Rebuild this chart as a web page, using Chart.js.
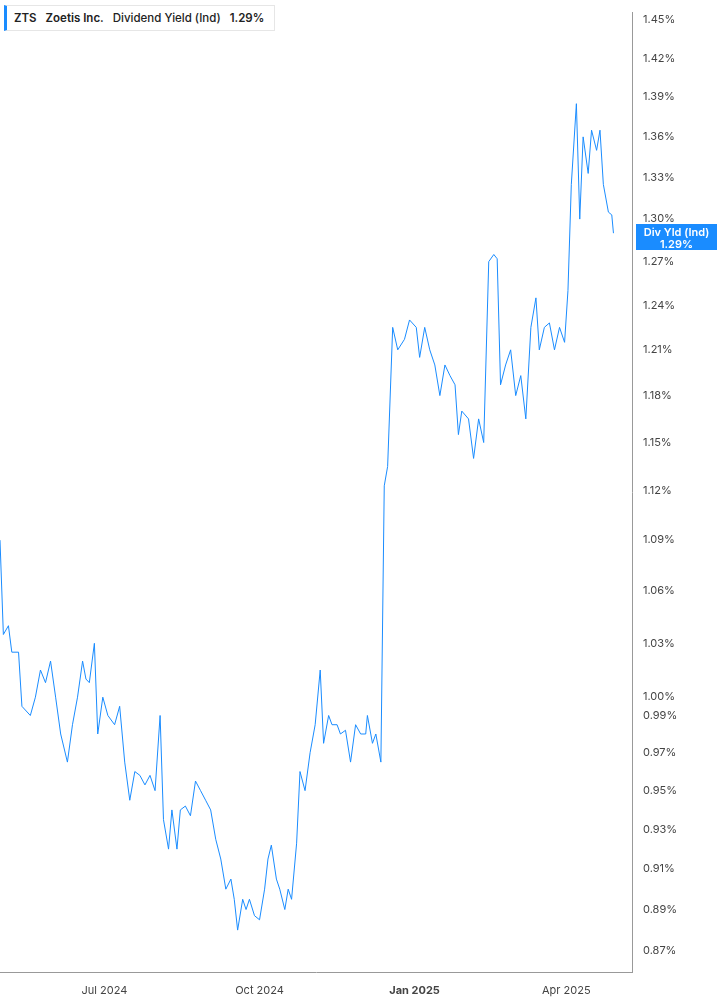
<!DOCTYPE html>
<html><head><meta charset="utf-8">
<script src="https://cdn.jsdelivr.net/npm/chart.js@4"></script>
<style>
body{margin:0;background:#fff;font-family:Inter,"Noto Sans",sans-serif;}
#wrap{position:relative;width:717px;height:1005px;}
#leg{position:absolute;left:4px;top:5px;height:24px;padding:0 10px 0 7px;border:1px solid #e6e6e6;border-left:3px solid #1a8cff;background:#fff;font-size:11.5px;line-height:24px;color:#222;font-weight:600;}
#leg span{margin-right:9px}
#cur{position:absolute;left:636px;top:224px;width:81px;height:26px;background:#1a8cff;color:#fff;font-size:11px;font-weight:600;text-align:center;line-height:12px;padding-top:2px;box-sizing:border-box;}
</style></head><body>
<div id="wrap"><canvas id="c" width="717" height="1005"></canvas>
<div id="leg"><span>ZTS</span><span>Zoetis Inc.</span><span style="font-weight:500">Dividend Yield (Ind)</span><span style="margin:0">1.29%</span></div>
<div id="cur">Div Yld (Ind)<br>1.29%</div></div>
<script>
const days=[0,2,5,7,11,13,18,21,24,27,30,33,36,40,43,46,49,51,53,56,58,61,64,68,71,74,77,80,83,86,89,92,95,97,100,102,105,107,110,113,116,119,122,125,128,131,134,137,139,141,144,146,148,151,154,157,159,161,164,166,169,171,173,176,178,181,184,187,190,192,195,197,200,202,205,208,211,214,217,218,221,223,226,228,230,233,236,240,243,247,249,252,255,258,261,264,267,270,272,274,278,281,284,287,290,293,295,297,300,303,306,309,312,315,318,320,323,326,329,332,335,337,339,342,344,346,349,351,354,356,358,361,363,364];
const yields=[1.09,1.035,1.04,1.025,1.025,0.995,0.99,1.0,1.015,1.008,1.02,1.0,0.98,0.965,0.985,1.0,1.02,1.01,1.008,1.03,0.98,1.0,0.99,0.985,0.995,0.965,0.945,0.96,0.958,0.953,0.958,0.95,0.99,0.935,0.92,0.94,0.92,0.94,0.942,0.937,0.955,0.95,0.945,0.94,0.925,0.915,0.9,0.905,0.895,0.88,0.895,0.89,0.895,0.887,0.885,0.9,0.915,0.922,0.905,0.9,0.89,0.9,0.895,0.923,0.96,0.95,0.97,0.985,1.015,0.975,0.99,0.985,0.985,0.98,0.982,0.965,0.985,0.98,0.98,0.99,0.975,0.98,0.965,1.123,1.135,1.225,1.21,1.217,1.23,1.225,1.205,1.225,1.21,1.2,1.18,1.2,1.193,1.187,1.155,1.17,1.165,1.14,1.165,1.15,1.27,1.275,1.272,1.187,1.2,1.21,1.18,1.193,1.165,1.225,1.245,1.21,1.225,1.228,1.21,1.225,1.215,1.25,1.325,1.385,1.30,1.36,1.333,1.365,1.35,1.365,1.325,1.305,1.303,1.29];
const yTicks=[0.87,0.89,0.91,0.93,0.95,0.97,0.99,1.00,1.03,1.06,1.09,1.12,1.15,1.18,1.21,1.24,1.27,1.30,1.33,1.36,1.39,1.42,1.45];
const xTickDays=[62,154,246,336];
const xTickLabels=['Jul 2024','Oct 2024','Jan 2025','Apr 2025'];
new Chart(document.getElementById('c'),{type:'line',
data:{datasets:[{data:days.map((d,i)=>({x:d,y:yields[i]})),borderColor:'#1a8cff',borderWidth:1,pointRadius:0,tension:0}]},
options:{responsive:false,animation:false,layout:{padding:0},plugins:{legend:{display:false},tooltip:{enabled:false}},
scales:{
x:{type:'linear',min:0,max:375,afterBuildTicks:a=>{a.ticks=xTickDays.map(v=>({value:v}));},
 afterFit:a=>{a.height=33;},
 grid:{display:false,drawTicks:true},border:{color:'#999'},
 ticks:{autoSkip:false,maxRotation:0,padding:4,color:'#444',font:c=>({family:'Inter',size:11,weight:c.tick&&c.tick.value===246?'bold':'normal'}),callback:(v)=>xTickLabels[xTickDays.indexOf(v)]}},
y:{type:'logarithmic',position:'right',min:0.864,max:1.456,
 afterBuildTicks:a=>{a.ticks=yTicks.map(v=>({value:v}));},
 afterFit:a=>{a.width=85;},
 grid:{display:false,drawTicks:true,tickLength:5,tickColor:'#999'},border:{color:'#999'},
 ticks:{autoSkip:false,padding:6,color:'#444',font:{family:'Inter',size:11},callback:v=>v.toFixed(2)+'%'}}
}}});
</script></body></html>
